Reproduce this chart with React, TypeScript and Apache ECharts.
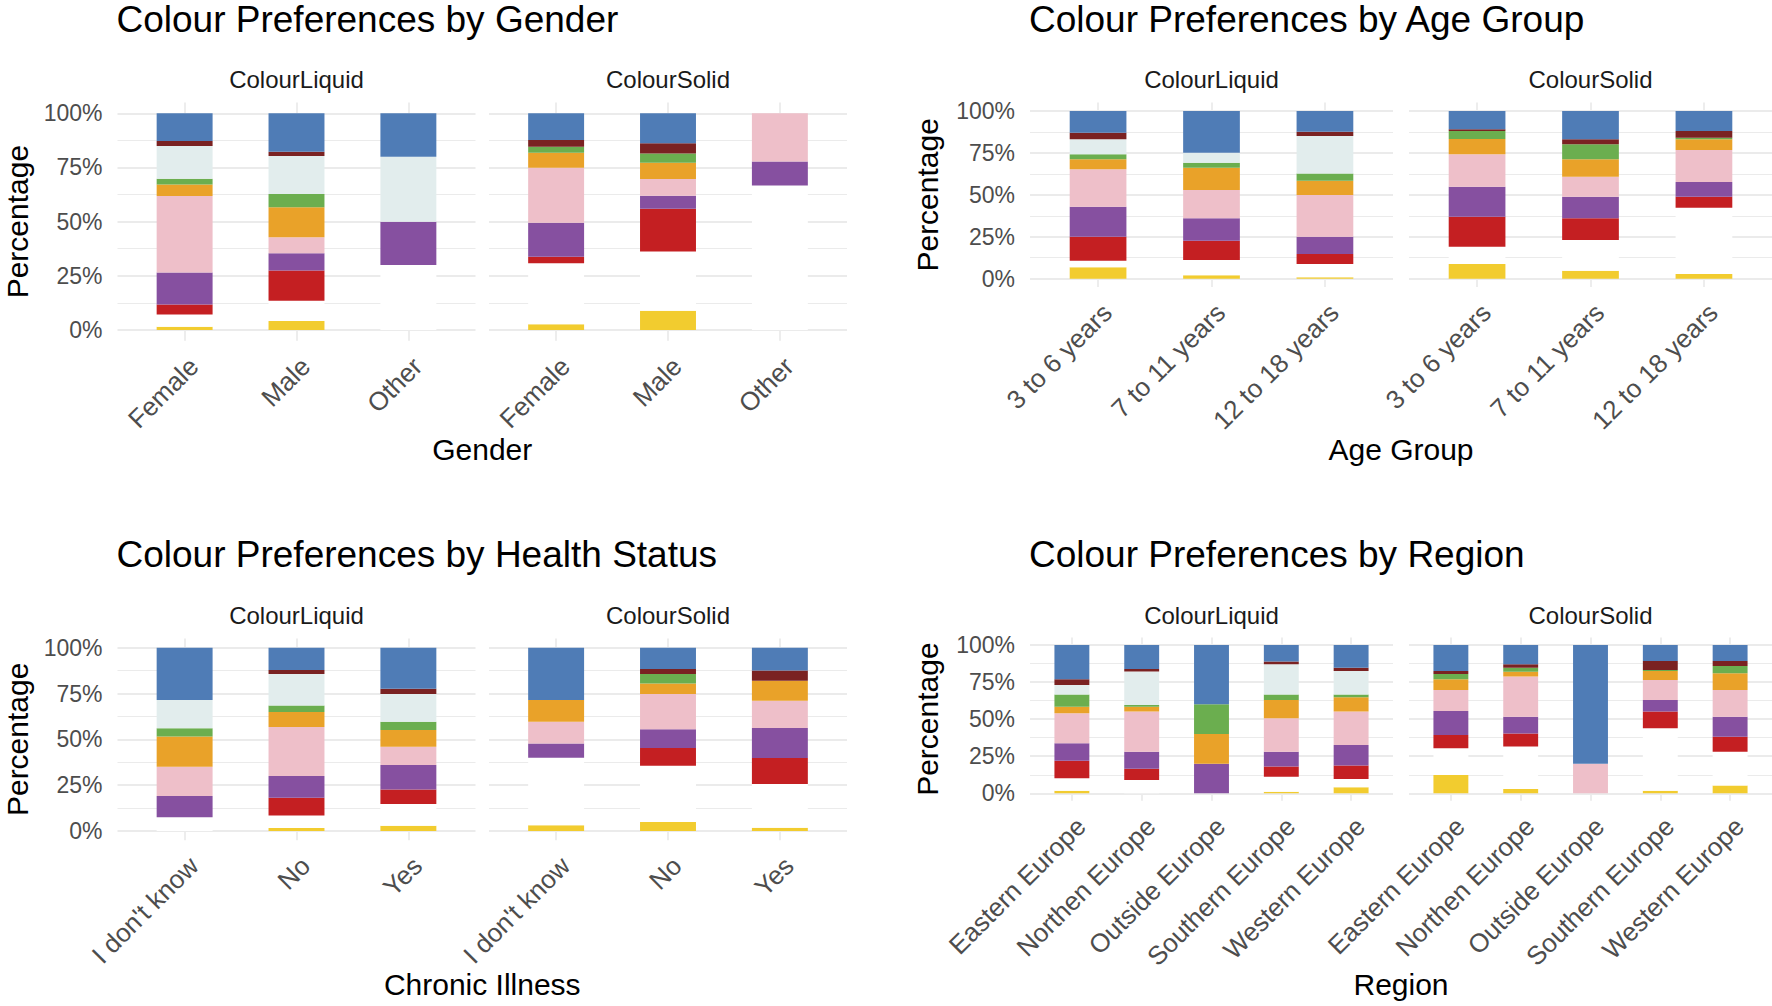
import React, { useEffect, useRef } from "react";
import * as echarts from "echarts";

// Stack order, bottom to top
const colourNames = ["Yellow", "White", "Red", "Purple", "Pink", "Orange", "Green", "Clear", "Brown", "Blue"];
const colourHex = ["#F2CC2F", "#FFFFFF", "#C41F22", "#8650A0", "#EEBFC9", "#E9A229", "#6BAE4F", "#E2EDED", "#7A2222", "#4F7CB6"];

const genderCats = ["Female", "Male", "Other"];
const ageCats = ["3 to 6 years", "7 to 11 years", "12 to 18 years"];
const healthCats = ["I don't know", "No", "Yes"];
const regionCats = ["Eastern Europe", "Northen Europe", "Outside Europe", "Southern Europe", "Western Europe"];

// One row per category; values in colourNames order (percent)
const genderLiquid = [
  [1.5, 5.7, 4.6, 14.7, 35.3, 5.4, 2.6, 15.1, 2.3, 12.8],
  [4.2, 9.3, 13.9, 8.0, 7.4, 13.8, 6.2, 17.5, 2.0, 17.7],
  [0, 30, 0, 20, 0, 0, 0, 30, 0, 20],
];
const genderSolid = [
  [2.6, 28.2, 3.0, 15.7, 25.4, 6.9, 2.8, 0, 3.1, 12.3],
  [8.9, 27.3, 19.8, 6.0, 7.7, 7.5, 4.3, 0, 4.7, 13.8],
  [0, 66.7, 0, 11.1, 22.2, 0, 0, 0, 0, 0],
];
const ageLiquid = [
  [6.8, 3.9, 14.3, 17.9, 22.3, 6.0, 3.0, 8.9, 4.0, 12.9],
  [2.0, 9.1, 11.6, 13.3, 16.9, 13.3, 3.0, 5.9, 0, 24.9],
  [0.8, 7.9, 6.0, 10.3, 24.9, 8.5, 4.4, 22.3, 2.6, 12.3],
];
const ageSolid = [
  [8.7, 10.4, 17.9, 17.9, 19.3, 9.1, 4.8, 0, 1.0, 10.9],
  [4.8, 18.3, 12.9, 12.9, 11.9, 10.4, 8.9, 0, 3.0, 16.9],
  [2.8, 39.5, 6.6, 8.8, 19.0, 6.4, 1.0, 0, 4.0, 11.9],
];
const healthLiquid = [
  [0, 7.5, 0, 11.6, 16.0, 16.4, 4.5, 15.5, 0, 28.5],
  [1.6, 6.9, 9.7, 11.8, 26.7, 8.2, 3.6, 17.1, 2.2, 12.2],
  [2.9, 11.8, 8.0, 13.3, 10.0, 9.1, 4.5, 15.1, 2.9, 22.4],
];
const healthSolid = [
  [3.1, 36.9, 0, 7.8, 11.8, 11.9, 0, 0, 0, 28.5],
  [4.9, 30.7, 9.7, 10.2, 19.2, 5.8, 5.1, 0, 2.8, 11.6],
  [1.8, 23.8, 14.2, 16.4, 14.9, 10.9, 0, 0, 5.5, 12.5],
];
const regionLiquid = [
  [1.8, 8.3, 11.9, 11.7, 20.2, 4.5, 8.3, 6.3, 3.9, 23.1],
  [0, 9.0, 7.6, 11.5, 27.0, 3.3, 1.2, 22.6, 1.6, 16.2],
  [0, 0, 0, 20, 0, 20, 20, 0, 0, 40],
  [1.1, 10.1, 6.8, 10.1, 22.5, 12.3, 3.8, 20.3, 1.8, 11.2],
  [4.0, 5.7, 9.0, 13.9, 22.5, 9.6, 2.0, 15.8, 2.2, 15.3],
];
const regionSolid = [
  [12.4, 17.9, 9.0, 16.2, 14.2, 7.2, 3.5, 0, 2.1, 17.5],
  [2.9, 28.6, 8.9, 11.3, 27.0, 3.3, 2.7, 0, 2.3, 13.0],
  [0, 0, 0, 0, 20, 0, 0, 0, 0, 80],
  [1.8, 42.0, 11.3, 7.8, 13.5, 6.1, 0.6, 0, 6.1, 10.8],
  [5.2, 22.9, 10.1, 13.5, 18.0, 11.2, 4.9, 0, 3.4, 10.8],
];

const FONT = "'Liberation Sans', Arial, Helvetica, sans-serif";
const GRID = "#EBEBEB";
const TICK_TEXT = "#4D4D4D";

const facets = [
  { title: "Colour Preferences by Gender", xTitle: "Gender", cats: genderCats, liquid: genderLiquid, solid: genderSolid,
    panelL: [117.5, 489], panelW: 358, y100: 113.3, y0: 330, titleY: 19, stripY: 79, xTitleY: 449, yTitleX: 17 },
  { title: "Colour Preferences by Age Group", xTitle: "Age Group", cats: ageCats, liquid: ageLiquid, solid: ageSolid,
    panelL: [1030, 1409], panelW: 363, y100: 111, y0: 278.7, titleY: 19, stripY: 79, xTitleY: 449, yTitleX: 927 },
  { title: "Colour Preferences by Health Status", xTitle: "Chronic Illness", cats: healthCats, liquid: healthLiquid, solid: healthSolid,
    panelL: [117.5, 489], panelW: 358, y100: 647.7, y0: 831, titleY: 554, stripY: 615, xTitleY: 984, yTitleX: 17 },
  { title: "Colour Preferences by Region", xTitle: "Region", cats: regionCats, liquid: regionLiquid, solid: regionSolid,
    panelL: [1030, 1409], panelW: 363, y100: 645, y0: 793.3, titleY: 554, stripY: 615, xTitleY: 984, yTitleX: 927 },
];

function buildOption() {
  const grid: any[] = [];
  const xAxis: any[] = [];
  const yAxis: any[] = [];
  const series: any[] = [];
  const graphic: any[] = [];

  facets.forEach((f) => {
    const n = f.cats.length;
    const s = f.panelW / (n + 0.2);
    const h = f.y0 - f.y100;
    const exp = h * 0.05;
    const subs: [string, number[][], number, boolean][] = [
      ["ColourLiquid", f.liquid, f.panelL[0], true],
      ["ColourSolid", f.solid, f.panelL[1], false],
    ];
    subs.forEach(([strip, rows, px, showY]) => {
      // background grid: full panel width, horizontal gridlines + y labels
      const gBg = grid.length;
      grid.push({ left: px, top: f.y100, width: f.panelW, height: h });
      xAxis.push({ gridIndex: gBg, type: "value", min: 0, max: 1, show: false });
      yAxis.push({
        gridIndex: gBg, type: "value", min: 0, max: 100, interval: 25,
        axisLine: { show: false }, axisTick: { show: false },
        splitLine: { show: true, lineStyle: { color: GRID, width: 1.8 } },
        minorTick: { show: false, splitNumber: 2 },
        minorSplitLine: { show: true, lineStyle: { color: GRID, width: 1.2 } },
        axisLabel: { show: showY, formatter: "{value}%", margin: 15, color: TICK_TEXT, fontSize: 23, fontFamily: FONT },
      });
      // main grid: category bands
      const gM = grid.length;
      grid.push({ left: px + 0.1 * s, top: f.y100, width: n * s, height: h });
      const tickStyle = { show: true, alignWithLabel: true, interval: 0, length: exp, lineStyle: { color: GRID, width: 1.8 } };
      const xa = xAxis.length;
      xAxis.push({
        gridIndex: gM, type: "category", data: f.cats, boundaryGap: true, position: "bottom",
        axisLine: { show: false }, axisTick: tickStyle, splitLine: { show: false },
        axisLabel: { rotate: 45, align: "right", verticalAlign: "top", margin: exp + 12, interval: 0,
          fontSize: 26, color: TICK_TEXT, fontFamily: FONT },
      });
      xAxis.push({
        gridIndex: gM, type: "category", data: f.cats, boundaryGap: true, position: "top",
        axisLine: { show: false }, axisTick: tickStyle, axisLabel: { show: false }, splitLine: { show: false },
      });
      const ya = yAxis.length;
      yAxis.push({ gridIndex: gM, type: "value", min: 0, max: 100, show: false });
      colourNames.forEach((c, ci) => {
        series.push({
          type: "bar", name: c, xAxisIndex: xa, yAxisIndex: ya, stack: "s" + gM, barWidth: "50%",
          itemStyle: { color: colourHex[ci] }, data: rows.map((r) => r[ci]), silent: true, z: 3,
        });
      });
      graphic.push({
        type: "text", x: px + f.panelW / 2, y: f.stripY,
        style: { text: strip, fontSize: 24, fontFamily: FONT, fill: "#1A1A1A",
          align: "center", verticalAlign: "middle", textAlign: "center", textVerticalAlign: "middle" },
      });
    });
    // facet title
    graphic.push({
      type: "text", x: f.panelL[0] - 1, y: f.titleY,
      style: { text: f.title, fontSize: 37, fontFamily: FONT, fill: "#000000",
        align: "left", verticalAlign: "middle", textAlign: "left", textVerticalAlign: "middle" },
    });
    // x title
    graphic.push({
      type: "text", x: (f.panelL[0] + f.panelL[1] + f.panelW) / 2, y: f.xTitleY,
      style: { text: f.xTitle, fontSize: 30, fontFamily: FONT, fill: "#000000",
        align: "center", verticalAlign: "middle", textAlign: "center", textVerticalAlign: "middle" },
    });
    // y title
    graphic.push({
      type: "text", x: f.yTitleX, y: (f.y100 + f.y0) / 2, rotation: Math.PI / 2,
      style: { text: "Percentage", fontSize: 30, fontFamily: FONT, fill: "#000000",
        align: "center", verticalAlign: "middle", textAlign: "center", textVerticalAlign: "middle" },
    });
  });

  return {
    animation: false,
    backgroundColor: "#FFFFFF",
    textStyle: { fontFamily: FONT },
    grid, xAxis, yAxis, series, graphic,
  };
}

export default function App() {
  const ref = useRef<HTMLDivElement>(null);
  useEffect(() => {
    document.body.style.margin = "0";
    if (!ref.current) return;
    const chart = echarts.init(ref.current, undefined, { renderer: "svg" });
    chart.setOption(buildOption() as any);
    return () => chart.dispose();
  }, []);
  return <div ref={ref} style={{ width: 1772, height: 1006 }} />;
}
